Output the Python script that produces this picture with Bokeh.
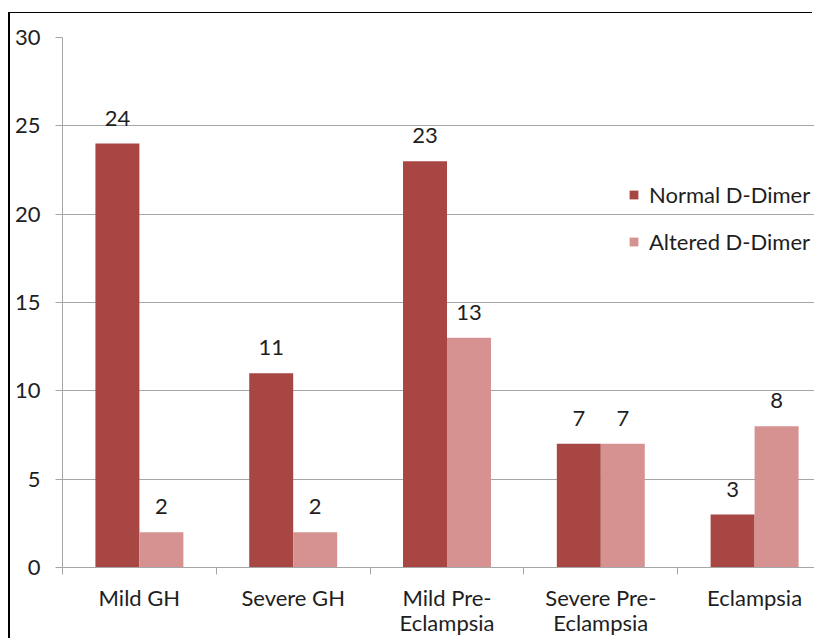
from bokeh.plotting import figure
from bokeh.models import ColumnDataSource, Range1d, FixedTicker, Legend, LegendItem
from bokeh.core.properties import value
from bokeh.embed import file_html
from bokeh.resources import INLINE

categories = ["Mild GH", "Severe GH", "Mild Pre-\nEclampsia", "Severe Pre-\nEclampsia", "Eclampsia"]
normal = [24, 11, 23, 7, 3]
altered = [2, 2, 13, 7, 8]
series_names = ["Normal D-Dimer", "Altered D-Dimer"]
y_ticks = [0, 5, 10, 15, 20, 25, 30]

DARK = "#A84644"
LIGHT = "#D59290"
FONT = "Lato"
GRID = "#A6A6A6"
TXT = "#1E1E1E"
FS = "22px"

bw = 0.286
idx = list(range(len(categories)))
src_n = ColumnDataSource(dict(x=[i + 0.5 - bw / 2 for i in idx], y=normal, t=[str(v) for v in normal]))
src_a = ColumnDataSource(dict(x=[i + 0.5 + bw / 2 for i in idx], y=altered, t=[str(v) for v in altered]))

p = figure(width=804, height=626, output_backend="svg", toolbar_location=None,
           x_range=Range1d(0, 752 / 153.8), y_range=Range1d(0, 30),
           min_border_left=52, min_border_right=0, min_border_top=24, min_border_bottom=71)
p.styles = {"margin-left": "10px", "margin-top": "13px",
            "box-shadow": "-2px -1px 0 0 black"}
p.outline_line_color = None
p.background_fill_color = "white"
p.border_fill_color = "white"

rn = p.vbar(x="x", top="y", width=bw, source=src_n, fill_color=DARK, line_color=None)
ra = p.vbar(x="x", top="y", width=bw, source=src_a, fill_color=LIGHT, line_color=None)

for s in (src_n, src_a):
    p.text(x="x", y="y", text="t", source=s, text_align="center", text_baseline="bottom",
           y_offset=-18, text_font=value(FONT), text_font_size=FS, text_color=TXT)

p.xgrid.visible = False
p.ygrid.ticker = FixedTicker(ticks=y_ticks)
p.ygrid.grid_line_color = GRID
p.ygrid.grid_line_width = 1

ya = p.yaxis[0]
ya.ticker = FixedTicker(ticks=y_ticks)
ya.axis_line_color = GRID
ya.major_tick_line_color = GRID
ya.major_tick_out = 7
ya.major_tick_in = 0
ya.minor_tick_line_color = None
ya.major_label_text_font = FONT
ya.major_label_text_font_size = FS
ya.major_label_text_color = TXT
ya.major_label_standoff = 15

xa = p.xaxis[0]
xa.ticker = FixedTicker(ticks=[i + 0.5 for i in idx], minor_ticks=list(range(len(categories) + 1)))
xa.major_label_overrides = {i + 0.5: c for i, c in zip(idx, categories)}
xa.axis_line_color = GRID
xa.major_tick_line_color = None
xa.major_tick_out = 0
xa.major_tick_in = 0
xa.minor_tick_line_color = GRID
xa.minor_tick_out = 7
xa.minor_tick_in = 0
xa.major_label_text_font = FONT
xa.major_label_text_font_size = FS
xa.major_label_text_color = TXT
xa.major_label_text_line_height = 0.95
xa.major_label_standoff = 9

legend = Legend(items=[LegendItem(label=series_names[0], renderers=[rn]),
                       LegendItem(label=series_names[1], renderers=[ra])],
                location=(566, 312), orientation="vertical")
legend.background_fill_alpha = 0
legend.border_line_color = None
legend.padding = 0
legend.margin = 0
legend.spacing = 20
legend.glyph_width = 11
legend.glyph_height = 11
legend.label_standoff = 10
legend.label_text_font = FONT
legend.label_text_font_size = FS
legend.label_text_color = TXT
legend.label_height = 22
p.add_layout(legend)

open("out.html", "w").write(file_html(p, INLINE))
